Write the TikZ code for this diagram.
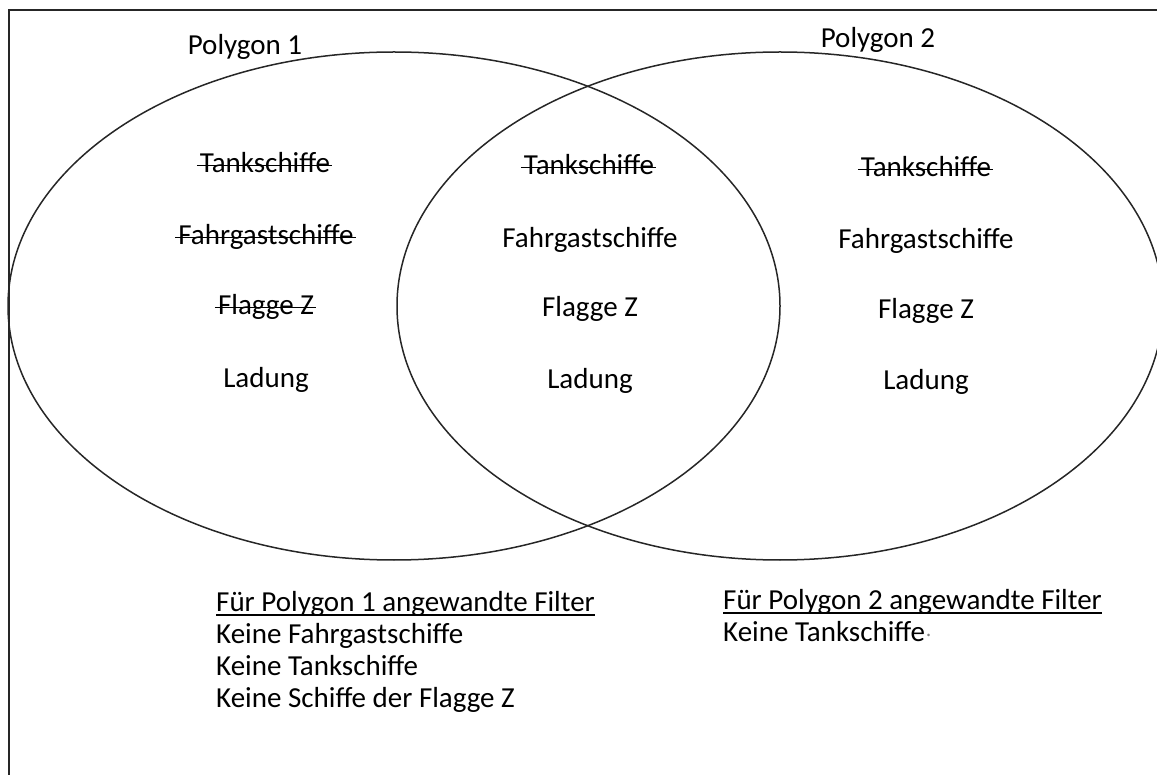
\documentclass[tikz,border=0pt]{standalone}
\usepackage{fontspec}
\setmainfont{Carlito}
\usetikzlibrary{shapes.geometric}
\begin{document}
\begin{tikzpicture}[x=1pt,y=-1pt,
  venn/.style={draw=black!85, line width=1.5pt, ellipse, inner sep=0pt,
    minimum width=#1, minimum height=508pt},
  lbl/.style={inner sep=0pt, anchor=base, font=\fontsize{29}{35}\selectfont},
  lft/.style={inner sep=0pt, anchor=base west, font=\fontsize{29}{35}\selectfont},
  strike/.style={line width=1.7pt, black},
  uline/.style={line width=1.5pt, black}]
\useasboundingbox (0,0) rectangle (1157,775);
% open frame (left and top edges)
\draw[line width=2pt, black!85] (9,775) -- (9,10) -- (1157,10);
% the two overlapping regions
\node[venn=772pt] (p1) at (394,306) {};
\node[venn=766pt] (p2) at (780,306) {};
% region titles
\node[lbl] (t1) at (245,55) {Polygon 1};
\node[lbl] (t2) at (878,48) {Polygon 2};
% left region
\node[lbl] (a1) at (265,173) {Tankschiffe};
\node[lbl] (a2) at (266,245) {Fahrgastschiffe};
\node[lbl] (a3) at (266,315) {Flagge Z};
\node[lbl] (a4) at (266,388) {Ladung};
\foreach \n in {a1,a2,a3}
  \draw[strike] ([xshift=-3pt,yshift=7.5pt]\n.base west) -- ([xshift=2pt,yshift=7.5pt]\n.base east);
% overlap
\node[lbl] (b1) at (589,175) {Tankschiffe};
\node[lbl] (b2) at (590,248) {Fahrgastschiffe};
\node[lbl] (b3) at (590,317) {Flagge Z};
\node[lbl] (b4) at (590,389) {Ladung};
\draw[strike] ([xshift=-3pt,yshift=7.5pt]b1.base west) -- ([xshift=2pt,yshift=7.5pt]b1.base east);
% right region
\node[lbl] (c1) at (926,177) {Tankschiffe};
\node[lbl] (c2) at (926,249) {Fahrgastschiffe};
\node[lbl] (c3) at (926,319) {Flagge Z};
\node[lbl] (c4) at (926,390) {Ladung};
\draw[strike] ([xshift=-3pt,yshift=7.5pt]c1.base west) -- ([xshift=2pt,yshift=7.5pt]c1.base east);
% filter lists
\node[lft] (f1) at (216,611) {Für Polygon 1 angewandte Filter};
\draw[uline] ([yshift=-4pt]f1.base west) -- ([yshift=-4pt]f1.base east);
\node[lft] (f1a) at (216,643) {Keine Fahrgastschiffe};
\node[lft] (f1b) at (216,675) {Keine Tankschiffe};
\node[lft] (f1c) at (216,707) {Keine Schiffe der Flagge Z};
\node[lft] (f2) at (723,609) {Für Polygon 2 angewandte Filter};
\draw[uline] ([yshift=-4pt]f2.base west) -- ([yshift=-4pt]f2.base east);
\node[lft] (f2a) at (723,641) {Keine Tankschiffe};
\node[inner sep=0pt, anchor=base west, font=\fontsize{18}{20}\selectfont, text=black!50] (dot) at ([xshift=1pt,yshift=1pt]f2a.base east) {·};
\end{tikzpicture}
\end{document}
